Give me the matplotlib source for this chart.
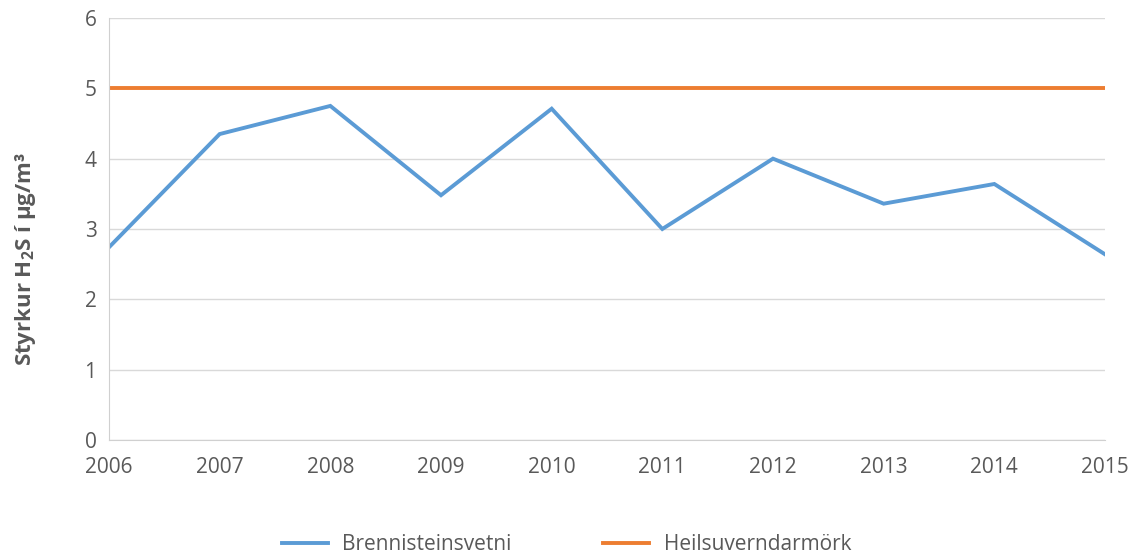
import matplotlib
matplotlib.use("Agg")
import matplotlib.pyplot as plt

plt.rcParams['font.family'] = ['Open Sans', 'DejaVu Sans']

years = [2006, 2007, 2008, 2009, 2010, 2011, 2012, 2013, 2014, 2015]
h2s = [2.74, 4.35, 4.75, 3.48, 4.71, 3.00, 4.00, 3.36, 3.64, 2.64]
limit = [5, 5, 5, 5, 5, 5, 5, 5, 5, 5]

W, H = 1133, 559
fig = plt.figure(figsize=(W / 100, H / 100), dpi=100)
ax = fig.add_axes([109 / W, 1 - 440 / H, (1105 - 109) / W, (440 - 18) / H])

ax.plot(years, h2s, color="#5b9bd5", lw=2.8, label="Brennisteinsvetni", solid_joinstyle="miter")
ax.plot(years, limit, color="#ed7d31", lw=2.8, label="Heilsuverndarmörk")

ax.set_xlim(2006, 2015)
ax.set_ylim(0, 6)
ax.set_xticks(years)
ax.set_yticks(range(7))
ax.tick_params(axis="both", length=0, labelsize=15, colors="#595959", pad=9)
ax.tick_params(axis="x", pad=12)
ax.grid(axis="y", color="#d9d9d9", lw=1)
ax.set_axisbelow(True)
for s in ["top", "right"]:
    ax.spines[s].set_visible(False)
ax.spines["left"].set_color("#d0d0d0")
ax.spines["bottom"].set_color("#d0d0d0")

ax.set_ylabel(r"Styrkur H$_\mathregular{2}$S í µg/m³", fontsize=16, fontweight="bold",
              color="#595959")
ax.yaxis.set_label_coords(-0.071, 0.43)

fig.legend(loc="lower center", bbox_to_anchor=(0.5, -0.027), ncol=2, frameon=False,
           fontsize=15, handlelength=2.2, columnspacing=4.4, handletextpad=0.7,
           labelcolor="#595959")

fig.savefig("out.png", dpi=100)
